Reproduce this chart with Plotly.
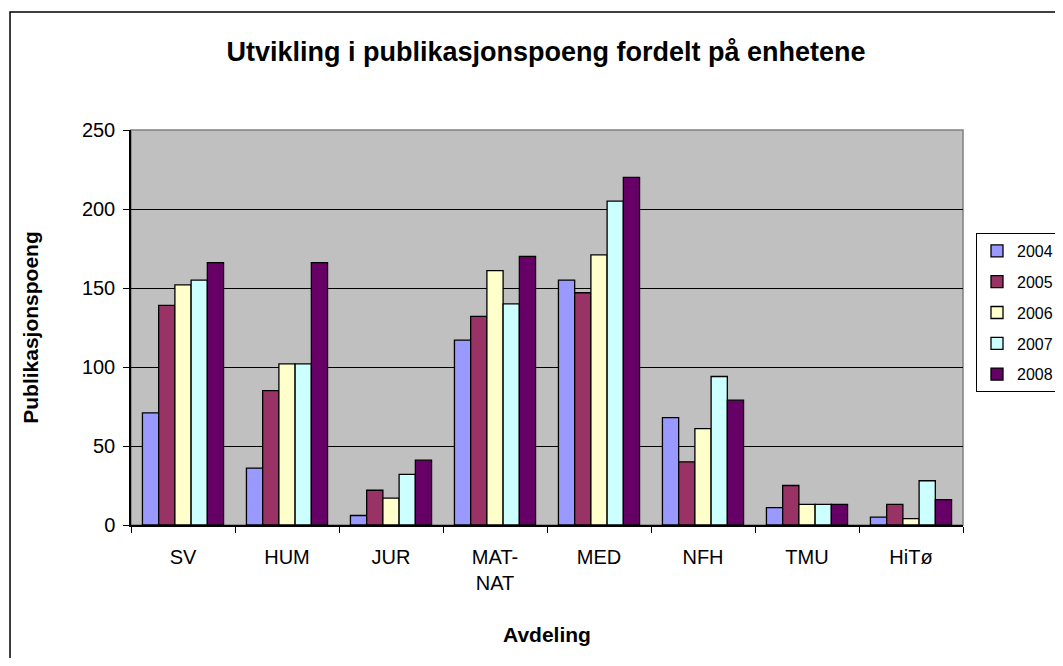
import plotly.graph_objects as go

avdelinger = ['SV', 'HUM', 'JUR', 'MAT-NAT', 'MED', 'NFH', 'TMU', 'HiTø']
tick_tekst = ['SV', 'HUM', 'JUR', 'MAT-<br>NAT', 'MED', 'NFH', 'TMU', 'HiTø']
aar = ['2004', '2005', '2006', '2007', '2008']

p2004 = [71, 36, 6, 117, 155, 68, 11, 5]
p2005 = [139, 85, 22, 132, 147, 40, 25, 13]
p2006 = [152, 102, 17, 161, 171, 61, 13, 4]
p2007 = [155, 102, 32, 140, 205, 94, 13, 28]
p2008 = [166, 166, 41, 170, 220, 79, 13, 16]

serier = [p2004, p2005, p2006, p2007, p2008]
farger = ['#9999FF', '#993366', '#FFFFCC', '#CCFFFF', '#660066']

fig = go.Figure()
for navn, verdier, farge in zip(aar, serier, farger):
    fig.add_trace(go.Bar(
        x=avdelinger, y=verdier, name=navn, legendgroup=navn,
        marker=dict(color=farge, line=dict(color='black', width=1.3)),
        hovertemplate='%{x}<br>' + navn + ': %{y}<extra></extra>'
    ))

font = 'Liberation Sans, Arial, sans-serif'

# body har 8px marg, så figuren gjøres litt mindre og alt forskyves 8px
W, H = 1047, 650

fig.update_layout(
    width=W, height=H,
    barmode='group', bargap=0.22, bargroupgap=0,
    plot_bgcolor='#C0C0C0', paper_bgcolor='white',
    font=dict(family=font, size=20, color='black'),
    title=dict(text='<b>Utvikling i publikasjonspoeng fordelt på enhetene</b>',
               x=(546 - 8) / W, xanchor='center', y=1 - (52 - 8) / H, yanchor='middle',
               font=dict(size=27)),
    margin=dict(l=123, r=92, t=122, b=133),
    xaxis=dict(
        type='category', tickvals=avdelinger, ticktext=tick_tekst,
        tickson='boundaries', ticks='outside', ticklen=6, tickcolor='black',
        ticklabelstandoff=13,
        showline=True, linecolor='black', linewidth=2, showgrid=False,
        title=dict(text='<b>Avdeling</b>', standoff=34, font=dict(size=21)),
        tickfont=dict(size=20)
    ),
    yaxis=dict(
        range=[0, 250], dtick=50, ticks='outside', ticklen=6, tickcolor='black',
        ticklabelstandoff=4,
        showline=True, linecolor='black', linewidth=1.5,
        showgrid=True, gridcolor='black', gridwidth=1, zeroline=False,
        title=dict(text='<b>Publikasjonspoeng</b>', standoff=38, font=dict(size=21)),
        tickfont=dict(size=20)
    ),
    legend=dict(
        xref='container', yref='container',
        x=(976 - 8) / W, xanchor='left', y=1 - (233 - 8) / H, yanchor='top',
        bgcolor='white', bordercolor='black', borderwidth=1,
        font=dict(size=16), tracegroupgap=7, itemwidth=30
    ),
    showlegend=True
)

# grå ramme rundt plottområdet (topp og høyre)
fig.add_shape(type='rect', xref='paper', yref='paper', x0=0, x1=1, y0=0, y1=1,
              line=dict(color='#808080', width=1.5), layer='below')
# ytre ramme rundt hele diagrammet
fig.add_shape(type='rect', xref='paper', yref='paper', x0=-0.1454, x1=1.2, y0=-0.5, y1=1.2987,
              line=dict(color='black', width=1.5))

fig.write_html('out.html')
